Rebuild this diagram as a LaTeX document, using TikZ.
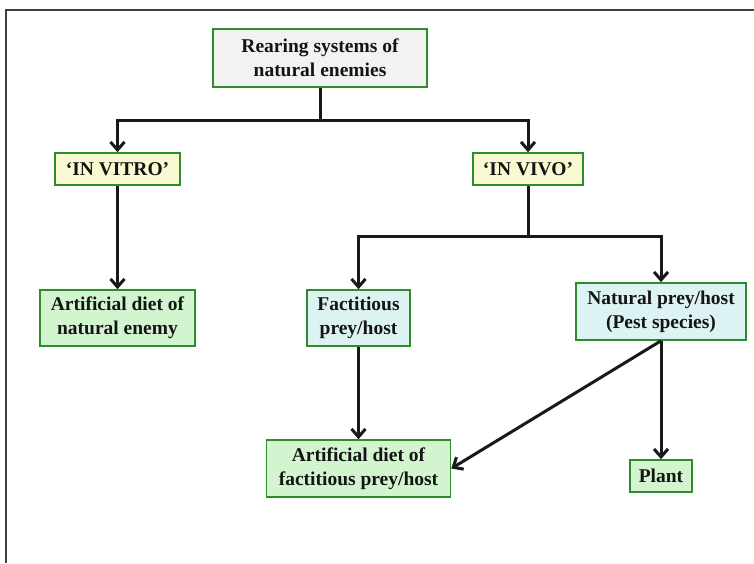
\documentclass[tikz,border=0pt]{standalone}
\usepackage{fontspec}
\setmainfont{Liberation Serif}
\usetikzlibrary{arrows.meta}
\definecolor{boxgreen}{HTML}{2E8B2E}
\definecolor{fgray}{HTML}{F2F2F2}
\definecolor{fyellow}{HTML}{FAFAD2}
\definecolor{fgreen}{HTML}{D2F5D0}
\definecolor{fcyan}{HTML}{DDF3F3}
\tikzset{
  x=1pt, y=1pt,
  box/.style={draw=boxgreen, line width=1.6pt, align=center, inner sep=0pt,
    font=\fontsize{19.5}{24}\selectfont\bfseries, text=black!92},
  conn/.style={line width=3pt, black!90},
  arr/.style={conn, -{Straight Barb[length=8pt,width=14pt,line width=3pt]}}
}
\begin{document}
\begin{tikzpicture}
\useasboundingbox (0,0) rectangle (754,-563);
\draw[line width=1.3pt, black!75] (6,-563) -- (6,-10) -- (754,-10);
\node[box, fill=fgray, minimum width=214, minimum height=58] (root) at (320,-58) {Rearing systems of\\natural enemies};
\node[box, fill=fyellow, minimum width=125, minimum height=32] (vitro) at (117.5,-169) {`IN VITRO'};
\node[box, fill=fyellow, minimum width=110, minimum height=32] (vivo) at (528,-169) {`IN VIVO'};
\node[box, fill=fgreen, minimum width=155, minimum height=56] (artne) at (117.5,-318) {Artificial diet of\\natural enemy};
\node[box, fill=fcyan, minimum width=103, minimum height=56] (fact) at (358.5,-318) {Factitious\\prey/host};
\node[box, fill=fcyan, minimum width=170, minimum height=57] (nat) at (661,-311.5) {Natural prey/host\\(Pest species)};
\node[box, fill=fgreen, minimum width=184, minimum height=57] (artfp) at (358.5,-468.5) {Artificial diet of\\factitious prey/host};
\node[box, fill=fgreen, minimum width=62, minimum height=32] (plant) at (661,-476) {Plant};
\coordinate (j1) at (320,-120);
\coordinate (j2) at (528,-236);
\draw[conn] (root.south) -- (j1);
\draw[arr] (j1) -| (vitro.north);
\draw[arr] (j1) -| (vivo.north);
\draw[conn] (vivo.south) -- (j2);
\draw[arr] (j2) -| (fact.north);
\draw[arr] (j2) -| (nat.north);
\draw[arr] (vitro.south) -- (artne.north);
\draw[arr] (fact.south) -- (artfp.north);
\draw[arr] (nat.south) -- (artfp.east);
\draw[arr] (nat.south) -- (plant.north);
\end{tikzpicture}
\end{document}
